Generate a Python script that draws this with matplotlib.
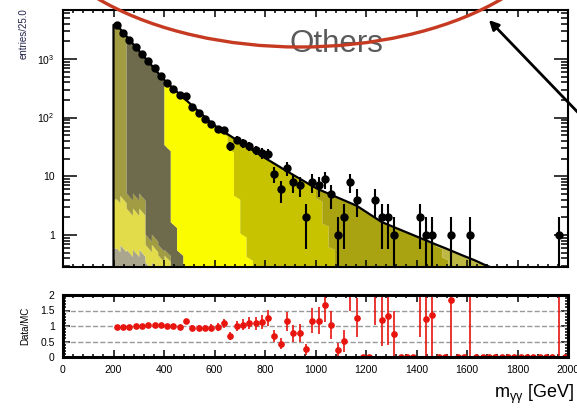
import numpy as np
import matplotlib.pyplot as plt
from matplotlib.patches import Ellipse, FancyArrowPatch
from matplotlib.ticker import (FixedLocator, FixedFormatter, MultipleLocator,
                               LogLocator, NullFormatter)

plt.rcParams['font.family'] = ['Liberation Sans', 'DejaVu Sans']
plt.rcParams['mathtext.fontset'] = 'custom'
plt.rcParams['mathtext.rm'] = 'Liberation Sans'
plt.rcParams['mathtext.it'] = 'Liberation Sans:italic'
plt.rcParams['mathtext.default'] = 'regular'

# binning: 25 GeV bins from 200 to 2000 GeV
bin_lo, bin_width, n_bins = 200, 25, 72

# observed entries per bin
data_counts = [3726, 2765, 2091, 1584, 1199, 925, 693, 515, 394, 312,
               242, 229, 151, 119, 95, 77, 65, 62, 33, 42,
               37, 33, 28, 25, 24, 11, 6, 14, 8, 7,
               2, 8, 7, 9, 5, 1, 2, 8, 4, 0,
               0, 4, 2, 2, 1, 0, 0, 0, 2, 1,
               1, 0, 0, 1, 0, 0, 1, 0, 0, 0,
               0, 0, 0, 0, 0, 0, 0, 0, 0, 0,
               1, 0]

# simulated samples, stacked bottom to top: first bin index + contents
mc_grey_start = 0
mc_grey = [0.6, 0.6, 0.5, 0.5, 0.5, 0.3, 0.3, 0.2, 0.2]
mc_light_start = 0
mc_light = [3.5, 3.5, 2.0, 2.0, 2.0, 0.3, 0.3, 0.2, 0.2]
mc_olive_start = 0
mc_olive = [3798, 2847, 2.0, 2.0, 2.0, 0.3, 0.3, 0.2, 0.1]
mc_dark_start = 2
mc_dark = [2130, 1595, 1194, 897, 672, 504, 30, 1.5, 0.5]
mc_yellow_start = 8
mc_yellow = [359, 310, 248, 199, 159, 127, 101, 81, 66, 52, 28, 4.4, 1.0, 0.4]
mc_oliveyel_start = 16
mc_oliveyel = [1.0, 5.0, 20.8, 37.2, 34.5, 29.9, 25.9, 22.1, 19.0, 16.4,
               14.1, 12.2, 10.5, 9.1, 7.9, 6.6, 4.0, 1.5, 0.6, 0.3,
               0.2, 0.1]
mc_khaki_start = 31
mc_khaki = [0.2, 1.98, 3.88, 4.23, 4.05, 3.71, 3.41, 3.16, 2.69, 2.29,
            1.95, 1.66, 1.50, 1.35, 1.22, 1.10, 0.99, 0.90, 0.81, 0.73,
            0.62, 0.40, 0.25, 0.15, 0.10, 0.08, 0.06, 0.04, 0.03, 0.02]
mc_tail_start = 51
mc_tail = [0.04, 0.20, 0.29, 0.335, 0.34, 0.32, 0.30, 0.28, 0.26, 0.24,
           0.235, 0.21, 0.19, 0.17, 0.155, 0.14, 0.125, 0.11, 0.10, 0.09,
           0.08]

stack_colors = ['#aaa68e', '#e2dc4a', '#a19b42', '#6e6b4c',
                '#fcfc00', '#c8c300', '#a9a312', '#bdb843']

edges = bin_lo + bin_width * np.arange(n_bins + 1)
centers = 0.5 * (edges[:-1] + edges[1:])


def fill_bins(start, values):
    h = np.zeros(n_bins)
    h[start:start + len(values)] = values
    return h


components = [fill_bins(mc_grey_start, mc_grey),
              fill_bins(mc_light_start, mc_light),
              fill_bins(mc_olive_start, mc_olive),
              fill_bins(mc_dark_start, mc_dark),
              fill_bins(mc_yellow_start, mc_yellow),
              fill_bins(mc_oliveyel_start, mc_oliveyel),
              fill_bins(mc_khaki_start, mc_khaki),
              fill_bins(mc_tail_start, mc_tail)]
total = np.sum(components, axis=0)
data = np.array(data_counts, dtype=float)

W, H = 577, 412
fig = plt.figure(figsize=(W / 100, H / 100), dpi=100)
ax = fig.add_axes([63 / W, 1 - 267 / H, 505 / W, 257 / H])
ax2 = fig.add_axes([63 / W, 1 - 357 / H, 505 / W, 62 / H])

# stacked MC: the summed curve runs smoothly through the bin centres,
# and inside each bin it is split by the samples' shares of that bin
xs = np.concatenate([np.linspace(edges[i], edges[i + 1], 6) for i in range(n_bins)])
idx = np.repeat(np.arange(n_bins), 6)
smooth_total = 10 ** np.interp(xs, centers, np.log10(total))
share = np.array(components)[:, idx] / total[idx]

cum = np.zeros_like(xs)
for s, col in zip(share, stack_colors):
    lower = np.maximum(cum * smooth_total, 1e-3)
    cum = cum + s
    upper = np.maximum(cum * smooth_total, 1e-3)
    ax.fill_between(xs, lower, upper, color=col, lw=0)
ax.plot(np.r_[edges[0], xs], np.r_[1e-3, smooth_total], color='k', lw=1.6)

# data points
m = data > 0
err = np.sqrt(data[m])
lo = np.minimum(err, data[m] - 1e-3)
ax.errorbar(centers[m], data[m], yerr=[lo, err], fmt='o', color='k',
            ms=5, elinewidth=1.5, capsize=0)

ax.set_yscale('log')
ax.set_xlim(0, 2000)
ax.set_ylim(0.285, 6800)
ax.yaxis.set_major_locator(FixedLocator([1, 10, 100, 1000]))
ax.yaxis.set_major_formatter(FixedFormatter(['1', '10', '$10^{2}$', '$10^{3}$']))
ax.yaxis.set_minor_locator(LogLocator(subs=np.arange(2, 10)))
ax.yaxis.set_minor_formatter(NullFormatter())
ax.xaxis.set_major_locator(MultipleLocator(200))
ax.xaxis.set_minor_locator(MultipleLocator(40))
ax.tick_params(which='both', direction='in', top=True, right=True,
               labelbottom=False, labelsize=7.5, width=1.1, pad=6)
ax.tick_params(axis='y', which='major', length=10)
ax.tick_params(axis='y', which='minor', length=5)
ax.tick_params(axis='x', which='major', length=5)
ax.tick_params(axis='x', which='minor', length=2.5)
for s in ax.spines.values():
    s.set_linewidth(1.5)

# ratio panel
ratio = np.where(total > 0, data / total, 0)
ratio_err = np.sqrt(data) / total
for yv in [0.5, 1.0, 1.5]:
    ax2.axhline(yv, color='#999999', ls='--', lw=1)
ax2.errorbar(centers, ratio, yerr=ratio_err, fmt='o', color='#e8140e',
             ms=3.8, elinewidth=1.2, capsize=0)
ax2.set_xlim(0, 2000)
ax2.set_ylim(0, 2)
ax2.yaxis.set_major_locator(FixedLocator([0, 0.5, 1, 1.5, 2]))
ax2.yaxis.set_major_formatter(FixedFormatter(['0', '0.5', '1', '1.5', '2']))
ax2.yaxis.set_minor_locator(MultipleLocator(0.1))
ax2.xaxis.set_major_locator(MultipleLocator(200))
ax2.xaxis.set_minor_locator(MultipleLocator(40))
ax2.tick_params(which='both', direction='in', top=True, right=True,
                labelsize=7.5, width=1.1, pad=6)
ax2.tick_params(which='major', length=5)
ax2.tick_params(which='minor', length=2.5)
for s in ax2.spines.values():
    s.set_linewidth(2.2)

fig.text(24 / W, 1 - 8 / H, 'entries/25.0', rotation=90, ha='center', va='top',
         fontsize=7, color='#22224a')
fig.text(25 / W, 1 - 326 / H, 'Data/MC', rotation=90, ha='center', va='center',
         fontsize=7)
fig.text(574 / W, 1 - 398 / H, r'm$_{\gamma\gamma}$ [GeV]', ha='right',
         va='baseline', fontsize=13)

# "Others" annotation with the red ring and arrow
fig.text(336 / W, 1 - 44 / H, 'Others', ha='center', va='center',
         fontsize=22.5, color='#5a5a5a', zorder=3)
fig.add_artist(Ellipse((300 / W, 1 + 103 / H), 550 / W, 300 / H,
                       transform=fig.transFigure, fill=False,
                       ec='#c63a22', lw=2.4, zorder=6))
fig.add_artist(FancyArrowPatch((590 / W, 1 - 125 / H), (487 / W, 1 - 18 / H),
                               transform=fig.transFigure, arrowstyle='-|>',
                               mutation_scale=14, color='k', lw=2, zorder=6))

fig.savefig('out.png', dpi=100, facecolor='white')
